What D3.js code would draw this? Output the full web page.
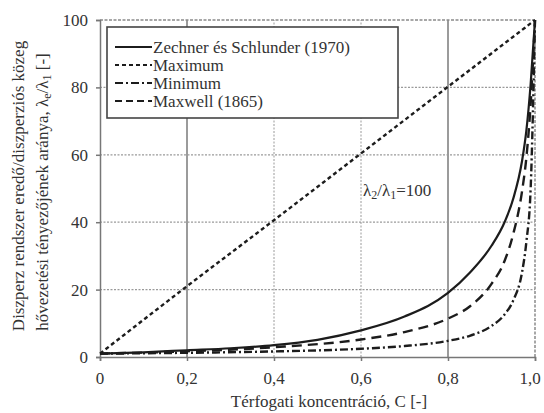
<!DOCTYPE html>
<html>
<head>
<meta charset="utf-8">
<script src="https://cdn.jsdelivr.net/npm/d3@7"></script>
<style>
    body { margin: 0; background: #fff; }
</style>
</head>
<body>
<div id="chart"></div>
<script>
// values (C = volume concentration, y = lambda_e / lambda_1)
const zsC = [0, 0.1, 0.2, 0.3, 0.4, 0.5, 0.6, 0.7, 0.8, 0.85, 0.9, 0.93, 0.95, 0.97, 0.98, 0.99, 1.0];
const zsVal = [1, 1.4, 2.0, 2.6, 3.5, 5.1, 7.9, 12, 19, 25, 33, 40, 47, 58, 67, 81, 100];

const maxC = [0, 0.2, 0.4, 0.6, 0.8, 1.0];
const maxVal = [1, 21, 40.6, 60.4, 80.2, 100];

const minC = [0, 0.2, 0.4, 0.6, 0.7, 0.8, 0.85, 0.9, 0.93, 0.95, 0.97, 0.98, 0.99, 1.0];
const minVal = [1, 1.25, 1.65, 2.45, 3.25, 4.8, 6.3, 9.2, 12.6, 16.8, 25, 34, 50, 100];

const mxC = [0, 0.2, 0.4, 0.6, 0.7, 0.8, 0.85, 0.9, 0.93, 0.95, 0.97, 0.98, 0.99, 1.0];
const mxVal = [1, 1.7, 2.9, 5.2, 7.4, 11.4, 15, 21.7, 28.5, 36.5, 49, 59, 75, 100];

const legendLabels = ['Zechner és Schlunder (1970)', 'Maximum', 'Minimum', 'Maxwell (1865)'];
const dashes = ['none', '4,3', '8,3,2,3', '10,6'];
const xTicks = [0, 0.2, 0.4, 0.6, 0.8, 1.0];
const yTicks = [0, 20, 40, 60, 80, 100];

/** Draws the conductivity ratio chart. */
class RatioChart {

    constructor() {
        this.svg = d3.select('#chart')
            .append('svg')
            .attr('width', 544)
            .attr('height', 413)
        ;
        this.font = "'Liberation Serif', 'Times New Roman', 'DejaVu Serif', serif";
        this.ink = '#1c1c1c';
        this.x = d3.scaleLinear().domain([0, 1]).range([100, 535]);
        this.y = d3.scaleLinear().domain([0, 100]).range([357, 20]);

        this.drawGrid();
        this.drawCurves();
        this.drawLabels();
        this.drawLegend();
    };

    drawGrid() {
        let x = this.x, y = this.y;
        // vertical grid lines, 0.2 and 0.8 are solid in the original
        this.svg.selectAll('.vgrid')
            .data(xTicks.slice(1, -1))
            .enter()
            .append('line')
            .attr('x1', d => x(d)).attr('x2', d => x(d))
            .attr('y1', y(0)).attr('y2', y(100))
            .style('stroke', d => (d == 0.2 || d == 0.8) ? '#7a7a7a' : '#9a9a9a')
            .style('stroke-width', d => (d == 0.2 || d == 0.8) ? 1.5 : 1)
            .style('stroke-dasharray', d => (d == 0.2 || d == 0.8) ? 'none' : '2,1.5')
        ;
        this.svg.selectAll('.hgrid')
            .data(yTicks.slice(1, -1))
            .enter()
            .append('line')
            .attr('x1', x(0)).attr('x2', x(1))
            .attr('y1', d => y(d)).attr('y2', d => y(d))
            .style('stroke', '#9a9a9a')
            .style('stroke-width', 1.2)
            .style('stroke-dasharray', '2,1.5')
        ;
        // frame: top and right are broken like the grid
        this.svg.append('line')
            .attr('x1', x(0)).attr('x2', x(1)).attr('y1', y(100)).attr('y2', y(100))
            .style('stroke', '#8a8a8a').style('stroke-width', 1.5).style('stroke-dasharray', '3,1.5');
        this.svg.append('line')
            .attr('x1', x(1)).attr('x2', x(1)).attr('y1', y(0)).attr('y2', y(100))
            .style('stroke', '#8a8a8a').style('stroke-width', 1.5).style('stroke-dasharray', '3,1.5');

        // axes with small outward ticks
        let xAxis = d3.axisBottom(x).tickValues(xTicks).tickSize(4).tickFormat('');
        let yAxis = d3.axisLeft(y).tickValues(yTicks).tickSize(4).tickFormat('');
        this.svg.append('g').attr('transform', `translate(0, ${y(0)})`).call(xAxis)
            .call(g => g.selectAll('path, line').style('stroke', '#777').style('stroke-width', 1.5));
        this.svg.append('g').attr('transform', `translate(${x(0)}, 0)`).call(yAxis)
            .call(g => g.selectAll('path, line').style('stroke', '#777').style('stroke-width', 1.5));
    }

    drawCurves() {
        let x = this.x, y = this.y;
        let series = [
            [zsC, zsVal],
            [maxC, maxVal],
            [minC, minVal],
            [mxC, mxVal]
        ];
        let line = d3.line()
            .x(d => x(d[0]))
            .y(d => y(d[1]))
            .curve(d3.curveMonotoneX)
        ;
        this.svg.selectAll('.curve')
            .data(series)
            .enter()
            .append('path')
            .attr('class', 'curve')
            .attr('d', d => line(d3.zip(d[0], d[1])))
            .style('fill', 'none')
            .style('stroke', this.ink)
            .style('stroke-width', (d, i) => i == 0 ? 2.2 : 2.4)
            .style('stroke-dasharray', (d, i) => dashes[i])
        ;
    }

    drawLabels() {
        let x = this.x, y = this.y;
        // tick labels, decimal comma; the last one is pulled in so it is not clipped
        this.svg.selectAll('.xlab')
            .data(xTicks)
            .enter()
            .append('text')
            .attr('x', d => Math.min(x(d), 530))
            .attr('y', 384)
            .attr('text-anchor', 'middle')
            .style('font-family', this.font)
            .style('font-size', '17px')
            .style('fill', '#333')
            .text(d => d3.format('.1f')(d).replace('.', ',').replace(/^0,0$/, '0'))
        ;
        this.svg.selectAll('.ylab')
            .data(yTicks)
            .enter()
            .append('text')
            .attr('x', 88)
            .attr('y', d => y(d) + 6)
            .attr('text-anchor', 'end')
            .style('font-family', this.font)
            .style('font-size', '17px')
            .style('fill', '#333')
            .text(d => d)
        ;
        this.svg.append('text')
            .attr('x', 329)
            .attr('y', 407)
            .attr('text-anchor', 'middle')
            .style('font-family', this.font)
            .style('font-size', '17px')
            .style('fill', '#333')
            .text('Térfogati koncentráció, C [-]')
        ;
        // y title, two rotated lines
        this.svg.append('text')
            .attr('text-anchor', 'middle')
            .attr('transform', 'translate(24, 186) rotate(-90)')
            .style('font-family', this.font)
            .style('font-size', '17px')
            .style('fill', '#333')
            .text('Diszperz rendszer eredő/diszperziós közeg')
        ;
        let t2 = this.svg.append('text')
            .attr('text-anchor', 'middle')
            .attr('transform', 'translate(48, 192) rotate(-90)')
            .style('font-family', this.font)
            .style('font-size', '17px')
            .style('fill', '#333')
        ;
        t2.append('tspan').text('hővezetési tényezőjének aránya, λ');
        t2.append('tspan').attr('dy', 3).style('font-size', '12px').text('e');
        t2.append('tspan').attr('dy', -3).text('/λ');
        t2.append('tspan').attr('dy', 3).style('font-size', '12px').text('1');
        t2.append('tspan').attr('dy', -3).text(' [-]');

        // ratio annotation
        let ann = this.svg.append('text')
            .attr('x', 363)
            .attr('y', 196)
            .style('font-family', this.font)
            .style('font-size', '17px')
            .style('fill', '#333')
        ;
        ann.append('tspan').text('λ');
        ann.append('tspan').attr('dy', 3).style('font-size', '12px').text('2');
        ann.append('tspan').attr('dy', -3).text('/λ');
        ann.append('tspan').attr('dy', 3).style('font-size', '12px').text('1');
        ann.append('tspan').attr('dy', -3).text('=100');
    }

    drawLegend() {
        let lx = 107, ly = 27;
        this.svg.append('rect')
            .attr('x', lx)
            .attr('y', ly)
            .attr('width', 291)
            .attr('height', 91)
            .style('fill', '#fff')
            .style('stroke', '#444')
            .style('stroke-width', 1.6)
        ;
        let rows = this.svg.selectAll('.legrow')
            .data(legendLabels)
            .enter()
            .append('g')
            .attr('transform', (d, i) => `translate(${lx}, ${ly + 20 + i * 18})`)
        ;
        rows.append('line')
            .attr('x1', 8).attr('x2', 45)
            .attr('y1', 0).attr('y2', 0)
            .style('stroke', this.ink)
            .style('stroke-width', 2.2)
            .style('stroke-dasharray', (d, i) => i == 3 ? '7,4' : dashes[i])
        ;
        rows.append('text')
            .attr('x', 46)
            .attr('y', 6)
            .style('font-family', this.font)
            .style('font-size', '17px')
            .style('fill', '#333')
            .text(d => d)
        ;
    }
}

new RatioChart();
</script>
</body>
</html>
